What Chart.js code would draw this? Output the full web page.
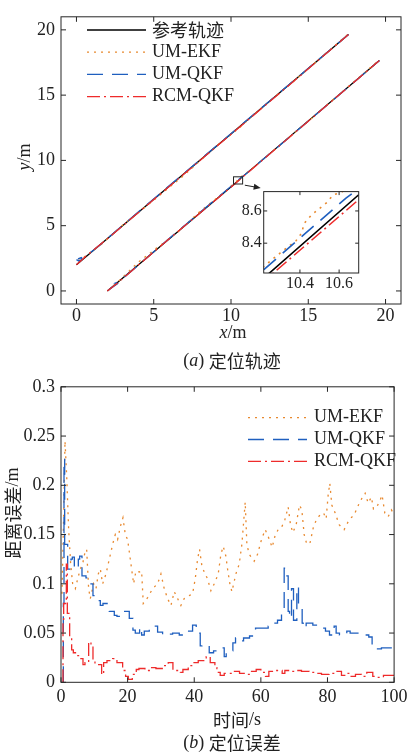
<!DOCTYPE html>
<html>
<head>
<meta charset="utf-8">
<script src="https://cdn.jsdelivr.net/npm/chart.js@4.4.1/dist/chart.umd.min.js"></script>
<style>
  body { margin: 0; background: #fff; }
  #wrap { position: relative; width: 412px; height: 756px; }
  canvas { position: absolute; }
</style>
</head>
<body>
<div id="wrap">
  <canvas id="traj" width="412" height="370" style="left:0;top:0"></canvas>
  <canvas id="zoom" width="150" height="120" style="left:215px;top:180px"></canvas>
  <canvas id="err" width="412" height="386" style="left:0;top:370px"></canvas>
</div>
<script>
/* ============================
   轨迹数据 (x/m, y/m)
============================ */
const refX1 = [0, 17.6];
const refY1 = [2, 19.65];
const refX2 = [2, 10.24, 10.70, 19.6];
const refY2 = [0, 8.21, 8.70, 17.65];

const ekfX1 = [0.1, 0.5, 1.5, 3, 5, 7, 9, 10.5, 12, 14, 16, 17.6];
const ekfY1 = [2.3, 2.6, 3.45, 5.05, 6.95, 8.9, 11.05, 12.45, 14.05, 16.0, 18.05, 19.7];
const ekfX2 = [2.05, 2.6, 4, 5.2, 6.5, 8, 9.5, 10.21, 10.30, 10.38, 10.41, 10.42, 10.46, 10.535, 10.57, 10.61, 11.2, 13, 15, 17, 19.6];
const ekfY2 = [0.05, 0.6, 2.2, 3.3, 4.45, 6.1, 7.5, 8.25, 8.34, 8.415, 8.465, 8.52, 8.576, 8.65, 8.70, 8.715, 9.2, 11.0, 13.0, 15.05, 17.7];

const qkfX1 = [0, 0.15, 0.35, 0.3, 0.1, 0.6, 1.5, 4, 8, 12, 16, 17.6];
const qkfY1 = [2.4, 2.3, 2.4, 2.55, 2.45, 2.65, 3.5, 6.05, 10.05, 14.05, 18.05, 19.65];
const qkfX2 = [2.05, 2.4, 2.65, 2.5, 2.8, 6, 10.21, 10.635, 11, 14, 19.6];
const qkfY2 = [0.05, 0.35, 0.55, 0.6, 0.75, 4.02, 8.23, 8.68, 9.0, 12.0, 17.65];

const rcmX1 = [0, 0.5, 2, 6, 10, 14, 17.6];
const rcmY1 = [2.0, 2.55, 4.0, 8.0, 12.0, 16.0, 19.65];
const rcmX2 = [2.0, 2.5, 6, 10.26, 10.70, 15, 19.6];
const rcmY2 = [0.0, 0.45, 4.0, 8.21, 8.67, 13.0, 17.65];

const trajTicks = [0, 5, 10, 15, 20];
const zoomXRange = [10.215, 10.70];
const zoomYRange = [8.215, 8.72];
const zoomXTicks = [10.4, 10.6];
const zoomYTicks = [8.4, 8.6];

/* ============================
   定位误差数据 (时间/s, 误差/m)
============================ */
const ekfT = [0.3, 0.8, 1.2, 1.7, 2.3, 2.9, 3.5, 4.3, 5.0, 5.8, 6.6, 7.2, 7.7, 8.3, 8.8, 9.8, 10.5, 11.2, 11.8, 12.5,
  13.5, 14.5, 15.5, 16.3, 17.0, 17.8, 18.6, 19.3, 20.0, 20.6, 21.2, 21.8, 22.5, 23.5, 24.2, 24.7, 26.0, 27.5, 29.0, 30.0,
  31.0, 32.0, 33.0, 34.0, 35.0, 36.0, 37.0, 38.5, 39.5, 40.3, 41.0, 41.6, 42.3, 43.0, 44.0, 45.0, 46.0, 47.2, 48.0, 48.7,
  49.5, 50.0, 50.7, 51.3, 52.5, 53.5, 54.3, 55.3, 55.8, 56.5, 58.0, 59.0, 60.2, 61.3, 62.2, 63.4, 64.2, 65.3, 66.3, 67.2,
  68.2, 68.9, 69.6, 70.6, 71.6, 72.3, 73.0, 73.8, 74.8, 75.8, 76.8, 77.8, 78.8, 79.6, 80.2, 80.7, 81.3, 82.3, 83.5, 85.0,
  86.5, 88.0, 89.3, 90.5, 91.3, 92.2, 93.2, 93.8, 94.8, 95.8, 96.4, 97.2, 98.2, 99.2, 100];
const ekfV = [0.09, 0.17, 0.245, 0.21, 0.155, 0.12, 0.1, 0.095, 0.105, 0.115, 0.122, 0.132, 0.135, 0.095, 0.085, 0.1, 0.095, 0.11, 0.115, 0.1,
  0.11, 0.125, 0.14, 0.15, 0.145, 0.158, 0.167, 0.15, 0.145, 0.13, 0.115, 0.1, 0.113, 0.112, 0.113, 0.08, 0.086, 0.095, 0.1, 0.11,
  0.095, 0.085, 0.078, 0.092, 0.085, 0.078, 0.085, 0.088, 0.09, 0.105, 0.125, 0.135, 0.118, 0.112, 0.105, 0.093, 0.1, 0.11, 0.13, 0.138,
  0.128, 0.115, 0.1, 0.092, 0.11, 0.12, 0.14, 0.183, 0.14, 0.13, 0.123, 0.13, 0.145, 0.155, 0.148, 0.137, 0.148, 0.156, 0.158, 0.165,
  0.178, 0.16, 0.152, 0.16, 0.18, 0.175, 0.15, 0.14, 0.142, 0.158, 0.166, 0.17, 0.172, 0.166, 0.19, 0.202, 0.18, 0.172, 0.16, 0.155,
  0.165, 0.17, 0.18, 0.188, 0.192, 0.182, 0.188, 0.176, 0.178, 0.185, 0.19, 0.172, 0.168, 0.175, 0.17];

const qkfT = [0.7, 0.9, 1.1, 2.0, 3.0, 3.4, 4.0, 5.2, 5.6, 6.3, 7.5, 9.0, 9.6, 10.2, 11.8, 12.6, 14.5, 16.0, 16.8, 18.0,
  20.5, 21.6, 22.3, 23.6, 24.2, 25.0, 26.5, 27.5, 29.0, 30.5, 32.0, 33.5, 35.5, 37.5, 39.5, 40.6, 41.8, 42.3, 44.5, 45.8,
  48.0, 49.0, 49.6, 51.6, 52.4, 53.5, 54.8, 56.6, 58.4, 59.8, 62.2, 63.2, 65.0, 66.2, 67.0, 67.4, 68.2, 68.6, 69.2, 69.8,
  70.8, 71.3, 72.4, 72.7, 73.6, 75.6, 77.8, 79.4, 80.6, 82.0, 82.6, 83.6, 85.8, 86.8, 89.6, 92.4, 93.4, 94.8, 96.2, 98.6, 100];
const qkfV = [0.0, 0.08, 0.227, 0.14, 0.115, 0.125, 0.127, 0.115, 0.125, 0.128, 0.108, 0.106, 0.1, 0.088, 0.083, 0.078, 0.08, 0.072, 0.068, 0.067,
  0.072, 0.065, 0.053, 0.05, 0.056, 0.048, 0.052, 0.055, 0.057, 0.051, 0.048, 0.049, 0.05, 0.048, 0.052, 0.058, 0.05, 0.037, 0.038, 0.03,
  0.032, 0.035, 0.026, 0.032, 0.04, 0.045, 0.042, 0.045, 0.047, 0.055, 0.055, 0.057, 0.06, 0.063, 0.07, 0.116, 0.108, 0.072, 0.065, 0.095,
  0.063, 0.097, 0.078, 0.06, 0.055, 0.06, 0.058, 0.055, 0.052, 0.048, 0.057, 0.05, 0.048, 0.052, 0.05, 0.048, 0.046, 0.036, 0.034, 0.035, 0.035];

const rcmT = [0.6, 0.8, 1.6, 1.9, 2.6, 3.2, 3.7, 4.6, 5.5, 6.6, 7.2, 8.3, 9.0, 9.6, 10.2, 12.2, 12.8, 13.8, 15.5, 16.8,
  18.5, 19.4, 20.2, 21.4, 22.6, 23.4, 25.2, 27.0, 28.5, 30.4, 32.2, 33.6, 35.8, 36.6, 38.2, 39.5, 41.2, 43.6, 44.8, 46.2,
  46.8, 47.8, 49.0, 51.6, 53.6, 55.2, 57.0, 58.6, 60.0, 61.4, 62.4, 64.0, 66.4, 67.2, 68.6, 70.4, 72.2, 74.5, 76.4, 78.2,
  80.5, 82.6, 84.2, 85.6, 86.8, 88.4, 90.2, 91.8, 93.6, 94.6, 96.8, 98.6, 100];
const rcmV = [0.0, 0.063, 0.08, 0.12, 0.07, 0.045, 0.033, 0.03, 0.027, 0.024, 0.018, 0.02, 0.041, 0.038, 0.022, 0.018, 0.008, 0.02, 0.022, 0.024,
  0.02, 0.012, 0.006, 0.003, 0.008, 0.013, 0.014, 0.012, 0.015, 0.014, 0.017, 0.02, 0.012, 0.01, 0.013, 0.017, 0.02, 0.022, 0.026, 0.02,
  0.015, 0.01, 0.007, 0.009, 0.011, 0.009, 0.008, 0.011, 0.013, 0.01, 0.006, 0.011, 0.012, 0.009, 0.012, 0.011, 0.012, 0.011, 0.01, 0.009,
  0.008, 0.009, 0.011, 0.007, 0.009, 0.006, 0.008, 0.006, 0.01, 0.006, 0.005, 0.007, 0.007];

const errXTicks = [0, 20, 40, 60, 80, 100];
const errYTicks = [0, 0.05, 0.1, 0.15, 0.2, 0.25, 0.3];

/* ============================
   样式
============================ */
const SERIF = '"Liberation Serif", "Times New Roman", serif';
const CJK = '"Noto Sans CJK SC", "Noto Sans CJK JP", sans-serif';
const TEXT = '#222222';
const styles = {
  ref: { label: '参考轨迹', cjk: true, color: '#000000', dash: [] },
  ekf: { label: 'UM-EKF', color: '#E8892F', dash: [2, 5] },
  qkf: { label: 'UM-QKF', color: '#1F5FBF', dash: [16, 9] },
  rcm: { label: 'RCM-QKF', color: '#EE2B2B', dash: [13, 4, 2, 4] }
};
const INSET = { left: 215, top: 180, padL: 48.7, padT: 10 };

function fnt(size, fam, italic) {
    return (italic ? 'italic ' : '') + size + 'px ' + fam;
}

function pts(xs, ys) {
    return xs.map((x, i) => ({ x, y: ys[i] }));
}

function richText(ctx, parts, cx, cy, angle, align) {
    ctx.save();
    ctx.translate(cx, cy);
    ctx.rotate(angle || 0);
    let w = 0;
    parts.forEach(p => { ctx.font = p.f; w += ctx.measureText(p.t).width; });
    let x = align === 'left' ? 0 : -w / 2;
    ctx.textBaseline = 'middle';
    ctx.textAlign = 'left';
    ctx.fillStyle = TEXT;
    parts.forEach(p => {
        ctx.font = p.f;
        ctx.fillText(p.t, x, 0);
        x += ctx.measureText(p.t).width;
    });
    ctx.restore();
}

function drawLegend(ctx, keys, x1, x2, tx, y0, dy) {
    keys.forEach((k, i) => {
        const s = styles[k];
        const y = y0 + i * dy;
        ctx.save();
        ctx.strokeStyle = s.color;
        ctx.lineWidth = 1.3;
        ctx.setLineDash(s.dash);
        ctx.beginPath();
        ctx.moveTo(x1, y);
        ctx.lineTo(x2, y);
        ctx.stroke();
        ctx.restore();
        richText(ctx, [{ t: s.label, f: fnt(18, s.cjk ? CJK : SERIF) }], tx, y, 0, 'left');
    });
}

function lineSet(key, data, order, extra) {
    const s = styles[key];
    return Object.assign({
        label: s.label, data, borderColor: s.color, borderDash: s.dash, borderWidth: 1.3,
        pointRadius: 0, showLine: true, fill: false, tension: 0, order
    }, extra || {});
}

/* ============================
   边框与内向刻度
============================ */
const framePlugin = {
    id: 'frame',
    beforeDatasetsDraw(chart, args, opts) {
        if (!opts.bg) return;
        const a = chart.chartArea;
        chart.ctx.save();
        chart.ctx.fillStyle = '#ffffff';
        chart.ctx.fillRect(a.left, a.top, a.width, a.height);
        chart.ctx.restore();
    },
    afterDatasetsDraw(chart, args, opts) {
        const { ctx, chartArea: a, scales: { x, y } } = chart;
        const len = opts.len || 5;
        ctx.save();
        ctx.strokeStyle = '#262626';
        ctx.lineWidth = 1;
        ctx.setLineDash([]);
        ctx.strokeRect(a.left, a.top, a.width, a.height);
        ctx.beginPath();
        x.ticks.forEach(t => {
            const p = x.getPixelForValue(t.value);
            ctx.moveTo(p, a.bottom); ctx.lineTo(p, a.bottom - len);
            ctx.moveTo(p, a.top); ctx.lineTo(p, a.top + len);
        });
        y.ticks.forEach(t => {
            const p = y.getPixelForValue(t.value);
            ctx.moveTo(a.left, p); ctx.lineTo(a.left + len, p);
            ctx.moveTo(a.right, p); ctx.lineTo(a.right - len, p);
        });
        ctx.stroke();
        ctx.restore();
    }
};

function axis(min, max, ticks, fontSize, pad, fitKey, fitVal) {
    return {
        type: 'linear', min, max,
        grid: { display: false, drawTicks: false },
        border: { display: false },
        ticks: { font: { family: SERIF, size: fontSize }, color: TEXT, padding: pad, callback: v => String(v) },
        afterBuildTicks: s => { s.ticks = ticks.map(v => ({ value: v })); },
        afterFit: s => { s[fitKey] = fitVal; }
    };
}

/* ============================
   (a) 定位轨迹
============================ */
const trajSets = [
    lineSet('ref', pts(refX1, refY1), 4), lineSet('ref', pts(refX2, refY2), 4),
    lineSet('ekf', pts(ekfX1, ekfY1), 3), lineSet('ekf', pts(ekfX2, ekfY2), 3),
    lineSet('qkf', pts(qkfX1, qkfY1), 2), lineSet('qkf', pts(qkfX2, qkfY2), 2),
    lineSet('rcm', pts(rcmX1, rcmY1), 1), lineSet('rcm', pts(rcmX2, rcmY2), 1)
];

const trajText = {
    id: 'trajText',
    afterDraw(chart) {
        const { ctx, chartArea: a, scales: { x, y } } = chart;
        drawLegend(ctx, ['ref', 'ekf', 'qkf', 'rcm'], a.left + 26, a.left + 85, a.left + 91, 30, 22.2);
        richText(ctx, [{ t: 'y', f: fnt(18, SERIF, true) }, { t: '/m', f: fnt(18, SERIF) }], 25, 157, -Math.PI / 2);
        richText(ctx, [{ t: 'x', f: fnt(18, SERIF, true) }, { t: '/m', f: fnt(18, SERIF) }], 233, 333);
        richText(ctx, [{ t: '(', f: fnt(18, SERIF) }, { t: 'a', f: fnt(18, SERIF, true) }, { t: ') ', f: fnt(18, SERIF) },
            { t: '定位轨迹', f: fnt(18, CJK) }], 232, 361);

        // 放大区域框和箭头
        const bx1 = x.getPixelForValue(zoomXRange[0]), bx2 = x.getPixelForValue(zoomXRange[1]);
        const by1 = y.getPixelForValue(zoomYRange[1]), by2 = y.getPixelForValue(zoomYRange[0]);
        ctx.save();
        ctx.strokeStyle = '#222';
        ctx.lineWidth = 1;
        ctx.strokeRect(bx1 - 0.8, by1 - 0.3, bx2 - bx1 + 1.6, by2 - by1 + 0.6);
        const sx = bx2 + 3, sy = by2 + 1.5;
        const ex = INSET.left + INSET.padL - 3, ey = INSET.top + INSET.padT - 2;
        const ang = Math.atan2(ey - sy, ex - sx);
        ctx.beginPath();
        ctx.moveTo(sx, sy);
        ctx.lineTo(ex - 5 * Math.cos(ang), ey - 5 * Math.sin(ang));
        ctx.stroke();
        ctx.fillStyle = '#222';
        ctx.beginPath();
        ctx.moveTo(ex, ey);
        ctx.lineTo(ex - 7 * Math.cos(ang) + 3 * Math.sin(ang), ey - 7 * Math.sin(ang) - 3 * Math.cos(ang));
        ctx.lineTo(ex - 7 * Math.cos(ang) - 3 * Math.sin(ang), ey - 7 * Math.sin(ang) + 3 * Math.cos(ang));
        ctx.closePath();
        ctx.fill();
        ctx.restore();
    }
};

const errText = {
    id: 'errText',
    afterDraw(chart) {
        const { ctx } = chart;
        drawLegend(ctx, ['ekf', 'qkf', 'rcm'], 248, 307, 314, 47.7, 21.8);
        richText(ctx, [{ t: '距离误差', f: fnt(18, CJK) }, { t: '/m', f: fnt(18, SERIF) }], 13, 143, -Math.PI / 2);
        richText(ctx, [{ t: '时间', f: fnt(18, CJK) }, { t: '/s', f: fnt(18, SERIF) }], 237, 350);
        richText(ctx, [{ t: '(', f: fnt(18, SERIF) }, { t: 'b', f: fnt(18, SERIF, true) }, { t: ') ', f: fnt(18, SERIF) },
            { t: '定位误差', f: fnt(18, CJK) }], 232, 373);
    }
};

function drawAll() {
    new Chart(document.getElementById('traj'), {
        type: 'scatter',
        data: { datasets: trajSets },
        options: {
            responsive: false, animation: false,
            layout: { autoPadding: false, padding: { left: 0, right: 11, top: 6, bottom: 0 } },
            plugins: { legend: { display: false }, tooltip: { enabled: false }, frame: { len: 5 } },
            scales: {
                x: axis(-1, 21, trajTicks, 18, 1.5, 'height', 66),
                y: axis(-1, 21, trajTicks, 18, 6, 'width', 61)
            }
        },
        plugins: [framePlugin, trajText]
    });

    // 放大图
    new Chart(document.getElementById('zoom'), {
        type: 'scatter',
        data: { datasets: trajSets.map(d => Object.assign({}, d, { borderWidth: 1.6 })) },
        options: {
            responsive: false, animation: false,
            layout: { autoPadding: false, padding: { left: 0, right: 6.3, top: INSET.padT, bottom: 0 } },
            plugins: { legend: { display: false }, tooltip: { enabled: false }, frame: { len: 3.5, bg: true } },
            scales: {
                x: axis(zoomXRange[0], zoomXRange[1], zoomXTicks, 16, 0.7, 'height', 27),
                y: axis(zoomYRange[0], zoomYRange[1], zoomYTicks, 16, 2, 'width', INSET.padL)
            }
        },
        plugins: [framePlugin]
    });

    // (b) 定位误差
    new Chart(document.getElementById('err'), {
        type: 'line',
        data: {
            datasets: [
                lineSet('ekf', pts(ekfT, ekfV), 3),
                lineSet('qkf', pts(qkfT, qkfV), 2, { stepped: 'after' }),
                lineSet('rcm', pts(rcmT, rcmV), 1, { stepped: 'after' })
            ]
        },
        options: {
            responsive: false, animation: false,
            layout: { autoPadding: false, padding: { left: 0, right: 8.7, top: 14, bottom: 0 } },
            plugins: { legend: { display: false }, tooltip: { enabled: false }, frame: { len: 5 } },
            scales: {
                x: axis(0, 100, errXTicks, 18, 4.4, 'height', 73.7),
                y: axis(0, 0.3, errYTicks, 18, 6, 'width', 61)
            }
        },
        plugins: [framePlugin, errText]
    });
}

Promise.all([
    document.fonts.load('18px "Liberation Serif"'),
    document.fonts.load('italic 18px "Liberation Serif"'),
    document.fonts.load('18px "Noto Sans CJK SC"', '参考轨迹定位误差')
]).catch(() => null).then(drawAll);
</script>
</body>
</html>
